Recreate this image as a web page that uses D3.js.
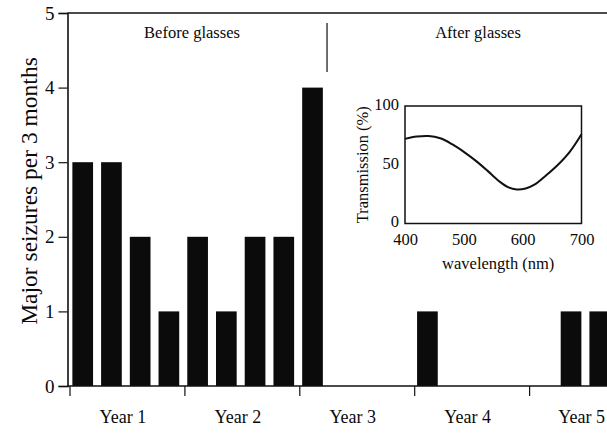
<!DOCTYPE html>
<html>
<head>
<meta charset="utf-8">
<script src="https://cdn.jsdelivr.net/npm/d3@7"></script>
<style>
  html, body { margin: 0; padding: 0; background: #fff; }
  svg { display: block; }
  text { font-family: "Liberation Serif", "Times New Roman", serif; fill: #0a0a0a; }
</style>
</head>
<body>
<svg id="chart" width="607" height="433"></svg>
<script>
// ---- data ----
const years = ["Year 1", "Year 2", "Year 3", "Year 4", "Year 5"];
const quarters = ["Q1", "Q2", "Q3", "Q4"];
const seizures = [
  3, 3, 2, 1,   // Year 1
  2, 1, 2, 2,   // Year 2
  4, 0, 0, 0,   // Year 3
  1, 0, 0, 0,   // Year 4
  0, 1, 1, 0    // Year 5
];
const yTicks = [0, 1, 2, 3, 4, 5];
const periodLabels = ["Before glasses", "After glasses"];
const glassesFromQuarter = 9; // glasses fitted after first quarter of Year 3

const wavelength = [400, 420, 440, 460, 480, 500, 520, 540, 560, 575, 590, 605, 620, 640, 660, 680, 700];
const transmission = [72, 74, 74.5, 72.5, 67.5, 61, 53.5, 45, 36, 31, 29, 29.8, 33, 41, 50, 61, 76];
const insetXTicks = [400, 500, 600, 700];
const insetYTicks = [0, 50, 100];

// ---- layout ----
const W = 607, H = 433;
const svg = d3.select("#chart");
const nQ = years.length * quarters.length;

const x = d3.scaleLinear().domain([0, nQ]).range([69.5, 644]);
const y = d3.scaleLinear().domain([0, 5]).range([386, 13]);
const axisX = 67.5;

// top border
svg.append("line").attr("x1", axisX).attr("x2", W).attr("y1", y(5)).attr("y2", y(5))
  .attr("stroke", "#111").attr("stroke-width", 1.6);

// bars
svg.append("g").selectAll("rect").data(seizures).join("rect")
  .attr("x", (d, i) => x(i + 0.1))
  .attr("width", (d, i) => x(i + 0.82) - x(i + 0.1))
  .attr("y", d => y(d))
  .attr("height", d => y(0) - y(d))
  .attr("fill", "#0b0b0b");

// y axis
const yAxis = d3.axisLeft(y).tickValues(yTicks).tickFormat(d3.format("d")).tickSize(9).tickPadding(4);
const gy = svg.append("g").attr("transform", `translate(${axisX},0)`).call(yAxis);
gy.select(".domain").attr("stroke", "#111").attr("stroke-width", 1.6);
gy.selectAll(".tick line").attr("stroke", "#111").attr("stroke-width", 1.2);
gy.selectAll(".tick text").attr("font-size", 19).attr("font-family", "Liberation Serif").attr("fill", "#0a0a0a");

// x axis (year boundaries)
const boundaries = d3.range(0, years.length + 1).map(i => i * quarters.length);
const xAxis = d3.axisBottom(x).tickValues(boundaries).tickFormat("").tickSize(10).tickSizeOuter(0);
const gx = svg.append("g").attr("transform", `translate(0,${y(0)})`).call(xAxis);
gx.select(".domain").attr("stroke", "#111").attr("stroke-width", 1.4).attr("d", `M${axisX},0H${W}`);
gx.selectAll(".tick line").attr("stroke", "#111").attr("stroke-width", 1.2);

// year labels
svg.append("g").selectAll("text").data(years).join("text")
  .attr("font-size", 18)
  .attr("text-anchor", "middle")
  .attr("y", 423)
  .text(d => d)
  .attr("x", function(d, i) {
    const c = x(i * quarters.length + 2) - 4;
    const w = this.getComputedTextLength();
    return Math.min(c, W - w / 2 - 2);
  });

// y title
svg.append("text")
  .attr("transform", `translate(37,191) rotate(-90)`)
  .attr("text-anchor", "middle")
  .attr("font-size", 23.5)
  .text("Major seizures per 3 months");

// period labels and divider
const divX = x(glassesFromQuarter) - 1;
svg.append("line").attr("x1", divX).attr("x2", divX).attr("y1", 23).attr("y2", 72)
  .attr("stroke", "#111").attr("stroke-width", 1.2);
svg.append("text").attr("x", 192).attr("y", 38).attr("text-anchor", "middle")
  .attr("font-size", 16.5).text(periodLabels[0]);
svg.append("text").attr("x", 478).attr("y", 38).attr("text-anchor", "middle")
  .attr("font-size", 16.5).text(periodLabels[1]);

// ---- inset ----
const ix = d3.scaleLinear().domain([400, 700]).range([405, 581.5]);
const iy = d3.scaleLinear().domain([0, 100]).range([223.5, 106]);
const inset = svg.append("g");
inset.append("rect").attr("x", ix(400)).attr("y", iy(100))
  .attr("width", ix(700) - ix(400)).attr("height", iy(0) - iy(100))
  .attr("fill", "#fff").attr("stroke", "#111").attr("stroke-width", 1.5);

const line = d3.line().x((d, i) => ix(wavelength[i])).y(d => iy(d)).curve(d3.curveCatmullRom.alpha(0.5));
inset.append("path").datum(transmission).attr("d", line)
  .attr("fill", "none").attr("stroke", "#111").attr("stroke-width", 2);

const iax = d3.axisBottom(ix).tickValues(insetXTicks).tickSize(0).tickPadding(6).tickFormat(d3.format("d"));
const gix = inset.append("g").attr("transform", `translate(0,${iy(0)})`).call(iax);
gix.select(".domain").remove();
gix.selectAll("text").attr("font-size", 16.5).attr("font-family", "Liberation Serif").attr("fill", "#0a0a0a").attr("dy", "0.95em");

const iay = d3.axisLeft(iy).tickValues(insetYTicks).tickSize(0).tickPadding(6).tickFormat(d3.format("d"));
const giy = inset.append("g").attr("transform", `translate(${ix(400)},0)`).call(iay);
giy.select(".domain").remove();
giy.selectAll("text").attr("font-size", 16.5).attr("font-family", "Liberation Serif").attr("fill", "#0a0a0a").attr("dy", "0.2em");

inset.append("text").attr("x", (ix(400) + ix(700)) / 2 + 5).attr("y", 269)
  .attr("text-anchor", "middle").attr("font-size", 16.5).text("wavelength (nm)");
inset.append("text")
  .attr("transform", `translate(368,${(iy(0) + iy(100)) / 2}) rotate(-90)`)
  .attr("text-anchor", "middle").attr("font-size", 16.5).text("Transmission (%)");
</script>
</body>
</html>
